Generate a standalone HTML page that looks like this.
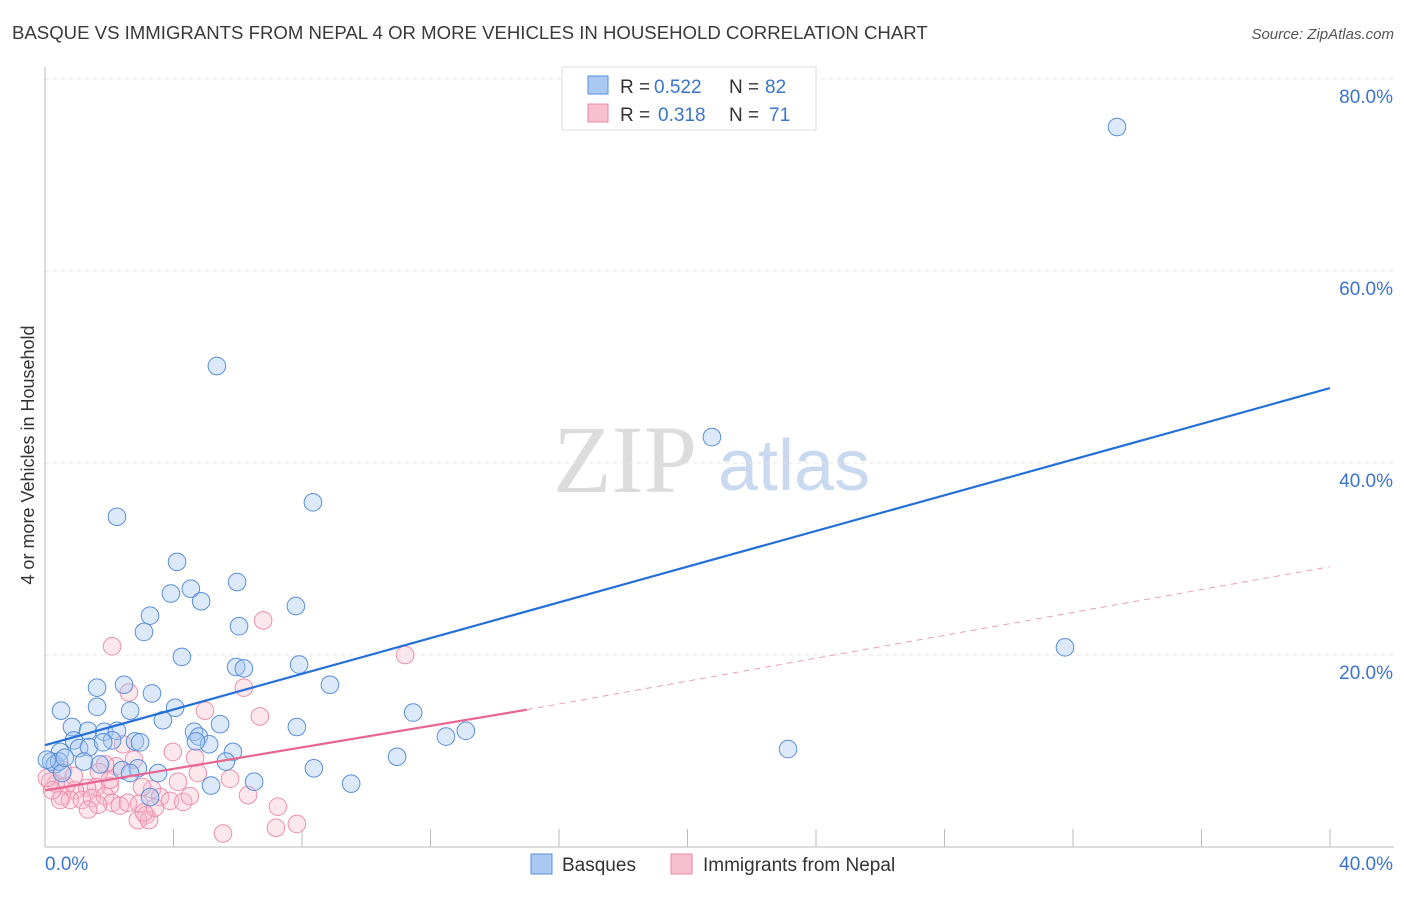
<!DOCTYPE html>
<html><head><meta charset="utf-8"><style>
body{margin:0;background:#fff;font-family:"Liberation Sans",sans-serif;}
</style></head><body>
<svg width="1406" height="892" xmlns="http://www.w3.org/2000/svg" style="font-family:'Liberation Sans',sans-serif">
<text x="12" y="39" font-size="18.6" fill="#3a3a3a">BASQUE VS IMMIGRANTS FROM NEPAL 4 OR MORE VEHICLES IN HOUSEHOLD CORRELATION CHART</text>
<text x="1394" y="39" font-size="15" fill="#555" font-style="italic" text-anchor="end">Source: ZipAtlas.com</text>
<g>
<text x="553" y="492" font-size="96" font-family="'Liberation Serif',serif" fill="#dcdcdc">ZIP</text>
<text x="718" y="490" font-size="72" fill="#c9d9f0">atlas</text>
</g>
<g id="grid"></g>
<g id="axes"></g>
<g id="marks"></g>
<text transform="translate(34,455) rotate(-90)" font-size="18" fill="#333" text-anchor="middle">4 or more Vehicles in Household</text>
<g>
<rect x="562" y="67" width="254" height="63" fill="#fff" stroke="#ddd"/>
<rect x="588" y="76" width="20" height="18" fill="#a9c8f2" stroke="#5a8fdc"/>
<rect x="588" y="104" width="20" height="18" fill="#f7bfd0" stroke="#e88aa5"/>
<text x="620" y="93" font-size="19" fill="#333">R =</text>
<text x="654" y="93" font-size="19" fill="#3a74d0">0.522</text>
<text x="729" y="93" font-size="19" fill="#333">N =</text>
<text x="765" y="93" font-size="19" fill="#3a74d0">82</text>
<text x="620" y="121" font-size="19" fill="#333">R =</text>
<text x="658" y="121" font-size="19" fill="#3a74d0">0.318</text>
<text x="729" y="121" font-size="19" fill="#333">N =</text>
<text x="769" y="121" font-size="19" fill="#3a74d0">71</text>
</g>
<g>
<rect x="531" y="854" width="21" height="20" fill="#a9c8f2" stroke="#5a8fdc"/>
<text x="562" y="871" font-size="19" fill="#333">Basques</text>
<rect x="671" y="854" width="21" height="20" fill="#f7bfd0" stroke="#e88aa5"/>
<text x="703" y="871" font-size="19" fill="#333">Immigrants from Nepal</text>
</g>
</svg>
<script>
const yTicks=[20,40,60,80];
const xTickLabels=["0.0%","40.0%"];
const blueX=[33.37,5.35,20.76,8.34,2.24,4.11,5.98,3.92,4.54,4.86,7.81,3.27,6.04,3.08,31.75,4.26,5.95,6.19,7.91,1.62,2.46,3.33,8.87,0.50,1.62,2.65,4.05,11.46,3.67,5.45,7.84,0.84,1.34,1.84,2.24,2.80,0.47,13.1,12.48,4.64,4.79,5.11,4.70,2.09,5.85,2.96,0.90,1.06,1.37,23.13,10.96,0.19,0.31,0.44,1.21,1.71,5.63,8.37,2.40,2.89,3.52,2.65,6.51,9.53,5.17,3.27,0.53,0.06,0.62,1.81];
const blueY=[75.0,50.1,42.7,35.9,34.4,29.7,27.6,26.4,26.9,25.6,25.1,24.1,23.0,22.4,20.8,19.8,18.75,18.6,19.0,16.6,16.9,16.0,16.9,14.2,14.6,14.2,14.5,14.0,13.2,12.8,12.5,12.5,12.1,12.0,12.1,11.0,9.9,12.1,11.5,12.0,11.5,10.7,11.0,11.1,9.9,10.9,11.1,10.3,10.4,10.2,9.4,8.9,8.6,8.9,8.9,8.6,8.9,8.2,8.0,8.2,7.7,7.7,6.8,6.6,6.4,5.2,7.7,9.1,9.3,10.9];
const pinkX=[2.09,6.79,11.21,2.61,6.19,4.98,6.69,3.98,4.67,2.21,1.87,2.77,2.43,1.68,4.76,5.76,4.14,3.33,3.02,2.02,1.59,1.31,0.93,0.65,0.34,0.16,0.53,0.78,1.15,1.46,1.87,2.09,2.33,2.58,2.93,3.14,3.58,3.89,4.30,4.51,6.32,7.25,7.84,7.19,5.54,2.89,3.24,1.65,0.47,0.22,0.06,1.34,2.02,0.56,0.90,3.08,3.42];
const pinkY=[20.9,23.6,20.0,16.1,16.6,14.2,13.6,9.9,9.3,8.4,8.6,9.1,10.7,7.8,7.7,7.1,6.8,6.0,6.25,6.35,6.25,6.15,5.9,6.35,6.6,6.8,5.3,4.9,4.9,5.1,5.3,4.6,4.3,4.6,4.5,3.3,5.2,4.8,4.7,5.3,5.4,4.2,2.4,2.0,1.4,2.8,2.8,4.4,4.9,5.9,7.2,3.9,7.0,8.0,7.4,3.6,4.1];
const blueLine=[[0,10.6],[40,47.8]];
const pinkSolid=[[0,5.9],[15,14.3]];
const pinkDash=[[15,14.3],[40,29.2]];
const X0=45,X1=1330,Y0=847,PXPER=9.6;
const sx=v=>X0+(X1-X0)*v/40;
const sy=v=>Y0-v*PXPER;
const NS="http://www.w3.org/2000/svg";
function mk(tag,attrs,parent){const e=document.createElementNS(NS,tag);for(const k in attrs)e.setAttribute(k,attrs[k]);parent.appendChild(e);return e;}
const grid=document.getElementById('grid'),axes=document.getElementById('axes'),marks=document.getElementById('marks');
yTicks.forEach(t=>{
 const l=mk('line',{x1:X0,x2:1394,y1:sy(t),y2:sy(t),stroke:'#e6e6e6','stroke-dasharray':'4,4'},grid);
 
 
 const tx=mk('text',{x:1393,y:sy(t)+24,'text-anchor':'end','font-size':19,fill:'#3a74d0'},axes);
 tx.textContent=t.toFixed(1)+'%';
 
 
});
const ax=mk('line',{x1:X0,x2:X0,y1:67,y2:Y0,stroke:'#bbb'},axes);


const bx=mk('line',{x1:X0,x2:X1+64,y1:Y0,y2:Y0,stroke:'#bbb'},axes);


for(let i=1;i<=10;i++){const t=mk('line',{x1:sx(i*4),x2:sx(i*4),y1:Y0-18,y2:Y0,stroke:'#bbb'},axes);
 
 }
const xl0=mk('text',{x:X0,y:870,'text-anchor':'start','font-size':19,fill:'#3a74d0'},axes);xl0.textContent=xTickLabels[0];


const xl1=mk('text',{x:1393,y:870,'text-anchor':'end','font-size':19,fill:'#3a74d0'},axes);xl1.textContent=xTickLabels[1];


pinkX.forEach((v,i)=>{const c=mk('circle',{cx:sx(v),cy:sy(pinkY[i]),r:8.8,fill:'rgba(246,185,203,0.35)',stroke:'#ec90aa','stroke-width':1},marks);
 
 });
blueX.forEach((v,i)=>{const c=mk('circle',{cx:sx(v),cy:sy(blueY[i]),r:8.8,fill:'rgba(168,200,242,0.4)',stroke:'#5a8fdc','stroke-width':1},marks);
 
 });
const bl=mk('line',{x1:sx(blueLine[0][0]),y1:sy(blueLine[0][1]),x2:sx(blueLine[1][0]),y2:sy(blueLine[1][1]),stroke:'#2370d8','stroke-width':2.2},marks);


const ps=mk('line',{x1:sx(pinkSolid[0][0]),y1:sy(pinkSolid[0][1]),x2:sx(pinkSolid[1][0]),y2:sy(pinkSolid[1][1]),stroke:'#e8668f','stroke-width':2.2},marks);


const pd=mk('line',{x1:sx(pinkDash[0][0]),y1:sy(pinkDash[0][1]),x2:sx(pinkDash[1][0]),y2:sy(pinkDash[1][1]),stroke:'#e8a0b5','stroke-width':1,'stroke-dasharray':'6,5'},marks);


</script>
</body></html>
